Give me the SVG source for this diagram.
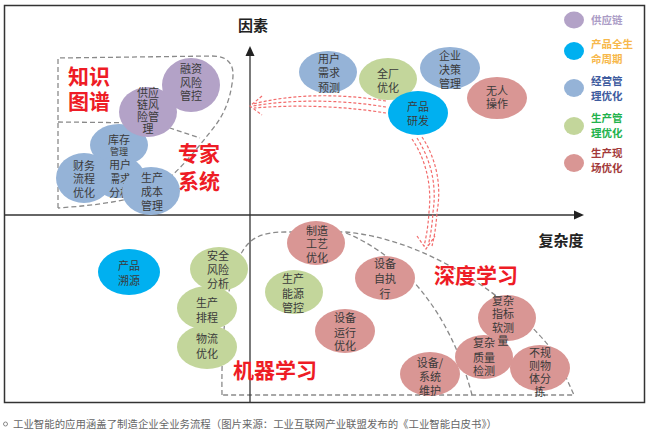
<svg xmlns="http://www.w3.org/2000/svg" width="655" height="436" viewBox="0 0 655 436">
<style>
text{font-family:"Noto Sans CJK SC","Noto Sans",sans-serif;}
.n{font-size:11px;fill:#3a3a3a;text-anchor:middle;dominant-baseline:central;}
.pu{fill:#b3a2c7;} .cy{fill:#00b0f0;} .bl{fill:#95b3d7;} .gr{fill:#c3d69b;} .pk{fill:#d99694;}
.big{font-size:21px;font-weight:bold;fill:#ee1c25;text-anchor:middle;}
.ax{stroke:#333;stroke-width:1.3;fill:none;}
.dash{stroke:#8a8a8a;stroke-width:1.3;fill:none;stroke-dasharray:5 3;}
.red{stroke:#f26b6b;stroke-width:1.2;fill:none;stroke-dasharray:3 2;}
.lg{font-size:10.5px;font-weight:bold;}
</style>
<rect x="0" y="0" width="655" height="436" fill="#fff"/>
<rect x="4.5" y="5.5" width="640" height="397" fill="#fff" stroke="#333" stroke-width="1.5"/>

<!-- regions -->
<g id="regions">
<path class="dash" d="M58,208 L58,58 L212,56 C228,56 236,64 232,84 C229,104 222,118 211,131 C196,150 182,168 160,186 C140,200 100,205 58,208"/>
<path class="dash" d="M58,122 L155,123 L200,138"/>
<path class="dash" d="M222,395 C221,330 228,275 242,252 C250,238 262,232 285,232 L346,232 C430,240 515,300 556,355 L574,395 L222,395"/>
<path class="dash" d="M346,233 C400,255 450,310 472,395"/>
</g>

<!-- axes -->
<g id="axes">
<line class="ax" x1="250" y1="54" x2="250" y2="402"/>
<polygon points="250,46 245.5,56 254.5,56" fill="#222"/>
<line class="ax" x1="5" y1="215" x2="575" y2="215"/>
<polygon points="584,215 574,210.5 574,219.5" fill="#222"/>
<text x="253" y="31" font-size="15" font-weight="bold" fill="#222" text-anchor="middle">因素</text>
<text x="561" y="246" font-size="15" font-weight="bold" fill="#222" text-anchor="middle">复杂度</text>
</g>

<!-- labels -->
<text class="big" x="89" y="84">知识</text>
<text class="big" x="89" y="109">图谱</text>
<text class="big" x="199" y="161">专家</text>
<text class="big" x="199" y="189">系统</text>
<text class="big" x="476" y="283">深度学习</text>
<text class="big" x="275" y="378">机器学习</text>

<!-- nodes: top-left cluster -->
<g id="n-kucun"><ellipse class="bl" cx="119" cy="145" rx="29" ry="21"/><text class="n" x="119"><tspan x="119" y="139">库存</tspan><tspan x="119" y="151" font-size="9">管理</tspan></text></g>
<g id="n-yonghuxuqiu"><ellipse class="bl" cx="118" cy="177" rx="27" ry="21"/><text class="n"><tspan x="120" y="164">用户</tspan><tspan x="120" y="178">需求</tspan><tspan x="120" y="192">分析</tspan></text></g>
<g id="n-caiwu"><ellipse class="bl" cx="84" cy="178" rx="28" ry="25"/><text class="n"><tspan x="84" y="165">财务</tspan><tspan x="84" y="178">流程</tspan><tspan x="84" y="192">优化</tspan></text></g>
<g id="n-chengben"><ellipse class="bl" cx="151" cy="191" rx="29" ry="24"/><text class="n"><tspan x="152" y="177">生产</tspan><tspan x="152" y="191">成本</tspan><tspan x="152" y="205">管理</tspan></text></g>
<g id="n-gongyinglian"><ellipse class="pu" cx="148" cy="112" rx="29" ry="25"/><text class="n"><tspan x="148" y="92">供应</tspan><tspan x="148" y="104">链风</tspan><tspan x="148" y="116">险管</tspan><tspan x="148" y="128">理</tspan></text></g>
<g id="n-rongzi"><ellipse class="pu" cx="191" cy="85" rx="29" ry="27"/><text class="n"><tspan x="191" y="68">融资</tspan><tspan x="191" y="82">风险</tspan><tspan x="191" y="95">管控</tspan></text></g>

<!-- top nodes -->
<g id="n-yuce"><ellipse class="bl" cx="328" cy="72" rx="29" ry="21"/><text class="n"><tspan x="329" y="58">用户</tspan><tspan x="329" y="72">需求</tspan><tspan x="329" y="87">预测</tspan></text></g>
<g id="n-quanchang"><ellipse class="gr" cx="388" cy="79" rx="29" ry="21"/><text class="n"><tspan x="388" y="73">全厂</tspan><tspan x="388" y="87">优化</tspan></text></g>
<g id="n-juece"><ellipse class="bl" cx="450" cy="68" rx="30" ry="21"/><text class="n"><tspan x="450" y="55">企业</tspan><tspan x="450" y="69">决策</tspan><tspan x="450" y="83">管理</tspan></text></g>
<g id="n-wuren"><ellipse class="pk" cx="497" cy="98" rx="30" ry="21"/><text class="n"><tspan x="497" y="90">无人</tspan><tspan x="497" y="103">操作</tspan></text></g>
<g id="n-yanfa"><ellipse class="cy" cx="418" cy="113" rx="30" ry="22"/><text class="n"><tspan x="418" y="106">产品</tspan><tspan x="418" y="120">研发</tspan></text></g>

<!-- bottom-left nodes -->
<g id="n-suyuan"><ellipse class="cy" cx="129" cy="272" rx="31" ry="23"/><text class="n"><tspan x="129" y="265">产品</tspan><tspan x="129" y="280">溯源</tspan></text></g>
<g id="n-wuliu"><ellipse class="gr" cx="207" cy="347" rx="30" ry="22"/><text class="n"><tspan x="207" y="338">物流</tspan><tspan x="207" y="353">优化</tspan></text></g>
<g id="n-paicheng"><ellipse class="gr" cx="207" cy="308" rx="30" ry="22"/><text class="n"><tspan x="207" y="302">生产</tspan><tspan x="207" y="317">排程</tspan></text></g>
<g id="n-anquan"><ellipse class="gr" cx="219" cy="269" rx="29" ry="22"/><text class="n"><tspan x="218" y="255">安全</tspan><tspan x="218" y="269">风险</tspan><tspan x="218" y="283">分析</tspan></text></g>
<g id="n-nengyuan"><ellipse class="gr" cx="294" cy="292" rx="29" ry="22"/><text class="n"><tspan x="293" y="278">生产</tspan><tspan x="293" y="293">能源</tspan><tspan x="293" y="307">管控</tspan></text></g>

<!-- bottom-right nodes -->
<g id="n-gongyi"><ellipse class="pk" cx="316" cy="243" rx="29" ry="22"/><text class="n"><tspan x="317" y="230">制造</tspan><tspan x="317" y="243">工艺</tspan><tspan x="317" y="257">优化</tspan></text></g>
<g id="n-zizhixing"><ellipse class="pk" cx="385" cy="278" rx="30" ry="22"/><text class="n"><tspan x="385" y="263">设备</tspan><tspan x="385" y="278">自执</tspan><tspan x="385" y="293">行</tspan></text></g>
<g id="n-yunxing"><ellipse class="pk" cx="345" cy="331" rx="30" ry="22"/><text class="n"><tspan x="345" y="317">设备</tspan><tspan x="345" y="332">运行</tspan><tspan x="345" y="345">优化</tspan></text></g>
<g id="n-zhiliang"><ellipse class="pk" cx="484" cy="357" rx="29" ry="22"/><text class="n"><tspan x="484" y="342">复杂</tspan><tspan x="484" y="357">质量</tspan><tspan x="484" y="370">检测</tspan></text></g>
<g id="n-ruancel"><ellipse class="pk" cx="507" cy="318" rx="29" ry="23"/><text class="n"><tspan x="503" y="300">复杂</tspan><tspan x="503" y="313">指标</tspan><tspan x="503" y="327">软测</tspan><tspan x="503" y="340">量</tspan></text></g>
<g id="n-weihu"><ellipse class="pk" cx="430" cy="374" rx="30" ry="22"/><text class="n"><tspan x="430" y="362">设备/</tspan><tspan x="430" y="376">系统</tspan><tspan x="430" y="390">维护</tspan></text></g>
<g id="n-fenjian"><ellipse class="pk" cx="540" cy="368" rx="30" ry="23"/><text class="n"><tspan x="540" y="352">不规</tspan><tspan x="540" y="365">则物</tspan><tspan x="540" y="378">体分</tspan><tspan x="540" y="391">拣</tspan></text></g>

<!-- connectors -->
<g id="connectors">
<path class="red" d="M386,101 C350,95 300,92 253,104"/>
<path class="red" d="M386,107 C350,101 300,98 253,106"/>
<path class="red" d="M386,113 C350,107 300,104 254,108"/>
<path class="red" d="M262,96 L250,106 L262,115"/>
<path class="red" d="M412,139 C426,160 432,185 429,212 C428,228 426,238 424,246"/>
<path class="red" d="M417,138 C431,160 437,185 433,212 C432,228 430,238 428,246"/>
<path class="red" d="M422,137 C436,158 442,185 437,212 C436,228 434,238 432,246"/>
<path class="red" d="M417,236 L426,249 L435,236"/>
</g>

<!-- legend -->
<g id="legend">
<ellipse class="pu" cx="574" cy="20" rx="10" ry="8.5"/>
<text class="lg" x="591" y="24" fill="#ab9cc6">供应链</text>
<ellipse class="cy" cx="574" cy="51" rx="10" ry="9"/>
<text class="lg" x="591" y="48" fill="#f7b84b">产品全生</text>
<text class="lg" x="591" y="63" fill="#f7b84b">命周期</text>
<ellipse class="bl" cx="574" cy="88" rx="10" ry="9"/>
<text class="lg" x="591" y="85" fill="#3e5b9e">经营管</text>
<text class="lg" x="591" y="100" fill="#3e5b9e">理优化</text>
<ellipse class="gr" cx="574" cy="126" rx="10" ry="9"/>
<text class="lg" x="591" y="122" fill="#22b24c">生产管</text>
<text class="lg" x="591" y="137" fill="#22b24c">理优化</text>
<ellipse class="pk" cx="574" cy="163" rx="10" ry="9"/>
<text class="lg" x="591" y="157" fill="#a33a3a">生产现</text>
<text class="lg" x="591" y="172" fill="#a33a3a">场优化</text>
</g>

<!-- caption -->
<circle cx="5.5" cy="424" r="2" fill="none" stroke="#888" stroke-width="1"/>
<text x="13" y="428" font-size="10.5" fill="#666" textLength="484" lengthAdjust="spacingAndGlyphs">工业智能的应用涵盖了制造企业全业务流程（图片来源：工业互联网产业联盟发布的《工业智能白皮书》）</text>
</svg>
